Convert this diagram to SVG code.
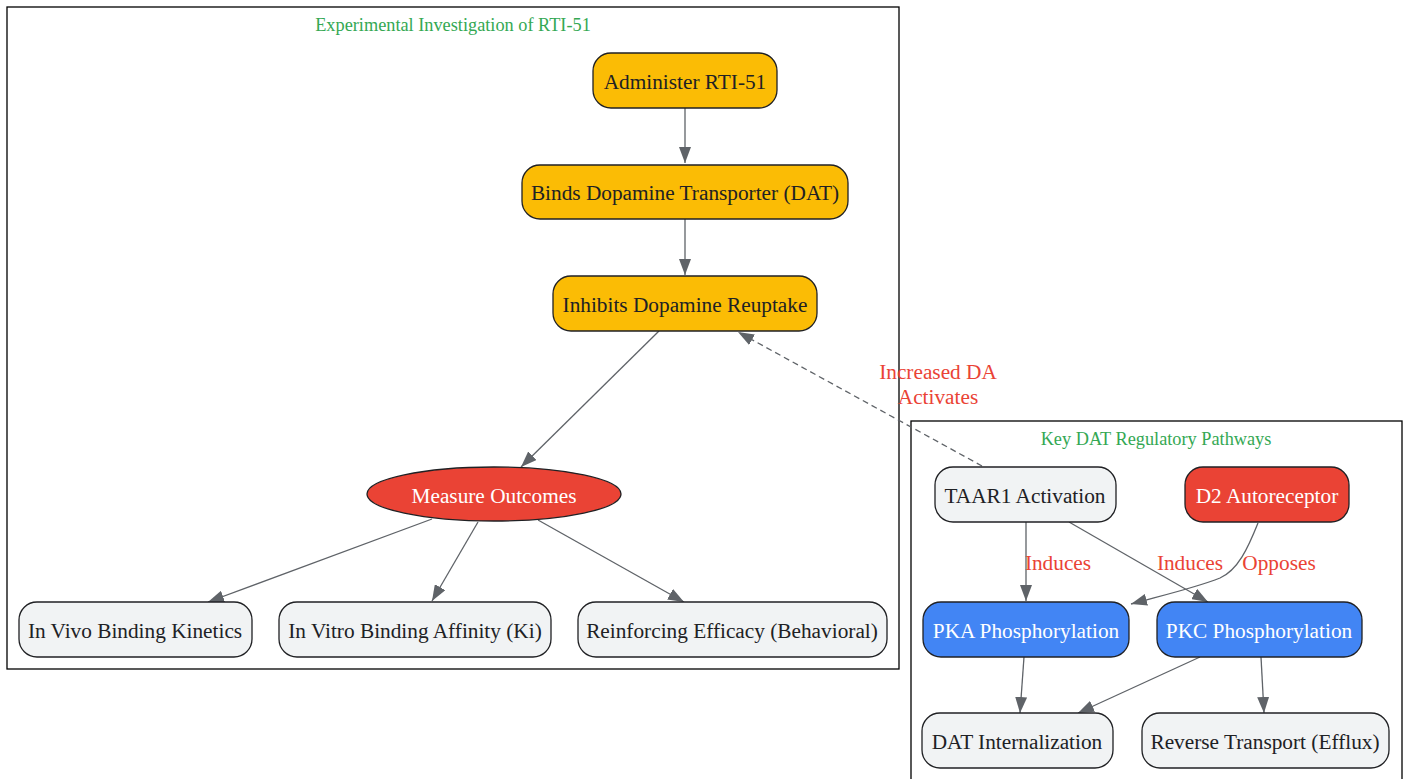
<svg xmlns="http://www.w3.org/2000/svg" width="1407" height="779" viewBox="0 0 1407 779">
<style>
.cl{fill:none;stroke:#000;stroke-width:1.3}
.ct{font-family:"Liberation Serif",serif;font-size:18.3px;fill:#34a853;text-anchor:middle}
.n{stroke:#202124;stroke-width:1.3}
.y{fill:#fbbc05}.g{fill:#f1f3f4}.r{fill:#ea4335}.b{fill:#4285f4}
.t{font-family:"Liberation Serif",serif;font-size:21.3px;text-anchor:middle;dominant-baseline:central;fill:#202124}
.w{fill:#fff}
.e{fill:none;stroke:#5f6368;stroke-width:1.3}
.d{stroke-dasharray:6,4}
.el{font-family:"Liberation Serif",serif;font-size:21.3px;fill:#ea4335;text-anchor:middle;dominant-baseline:central}
</style>
<defs>
<marker id="ah" viewBox="0 0 16 12" refX="16" refY="6" markerWidth="16" markerHeight="12" markerUnits="userSpaceOnUse" orient="auto"><path d="M0,0 L16,6 L0,12 z" fill="#5f6368"/></marker>
</defs>
<g id="cluster_exp">
<rect class="cl" x="7" y="7" width="892" height="662"/>
<text class="ct" x="453" y="31">Experimental Investigation of RTI-51</text>
</g>
<g id="cluster_dat">
<rect class="cl" x="911" y="421" width="491" height="370"/>
<text class="ct" x="1156" y="445">Key DAT Regulatory Pathways</text>
</g>
<g id="edges">
<path class="e" d="M685,108 L685,163" marker-end="url(#ah)"/>
<path class="e" d="M685,219 L685,275" marker-end="url(#ah)"/>
<path class="e" d="M659,331 L521,467" marker-end="url(#ah)"/>
<path class="e" d="M432,519 L208,602" marker-end="url(#ah)"/>
<path class="e" d="M478,522 L432,601" marker-end="url(#ah)"/>
<path class="e" d="M538,520 L684,602" marker-end="url(#ah)"/>
<path class="e d" d="M982,466 L738,332" marker-end="url(#ah)"/>
<path class="e" d="M1026,522 L1026,601" marker-end="url(#ah)"/>
<path class="e" d="M1069,522 L1208,602" marker-end="url(#ah)"/>
<path class="e" d="M1258,523 C1248,548 1238,570 1220,578 C1195,588 1160,596 1131,604" marker-end="url(#ah)"/>
<path class="e" d="M1024,657 L1020,713" marker-end="url(#ah)"/>
<path class="e" d="M1200,657 L1078,713" marker-end="url(#ah)"/>
<path class="e" d="M1261,657 L1264,713" marker-end="url(#ah)"/>
<text class="el" x="938" y="372">Increased DA</text>
<text class="el" x="938" y="397">Activates</text>
<text class="el" x="1058" y="563">Induces</text>
<text class="el" x="1190" y="563">Induces</text>
<text class="el" x="1279" y="563">Opposes</text>
</g>
<g id="administer"><rect class="n y" x="593" y="53" width="184" height="55" rx="18"/><text class="t" x="685" y="82">Administer RTI-51</text></g>
<g id="binds"><rect class="n y" x="522" y="165" width="326" height="54" rx="18"/><text class="t" x="685" y="193">Binds Dopamine Transporter (DAT)</text></g>
<g id="inhibits"><rect class="n y" x="553" y="276" width="264" height="55" rx="18"/><text class="t" x="685" y="305">Inhibits Dopamine Reuptake</text></g>
<g id="measure"><ellipse class="n r" cx="494" cy="494" rx="127" ry="27"/><text class="t w" x="494" y="496">Measure Outcomes</text></g>
<g id="invivo"><rect class="n g" x="19" y="602" width="233" height="55" rx="18"/><text class="t" x="135" y="631">In Vivo Binding Kinetics</text></g>
<g id="invitro"><rect class="n g" x="279" y="602" width="272" height="55" rx="18"/><text class="t" x="415" y="631">In Vitro Binding Affinity (Ki)</text></g>
<g id="reinforcing"><rect class="n g" x="578" y="602" width="309" height="55" rx="18"/><text class="t" x="732" y="631">Reinforcing Efficacy (Behavioral)</text></g>
<g id="taar1"><rect class="n g" x="935" y="467" width="181" height="55" rx="18"/><text class="t" x="1025" y="496">TAAR1 Activation</text></g>
<g id="d2"><rect class="n r" x="1185" y="467" width="164" height="55" rx="18"/><text class="t w" x="1267" y="496">D2 Autoreceptor</text></g>
<g id="pka"><rect class="n b" x="923" y="602" width="206" height="55" rx="18"/><text class="t w" x="1026" y="631">PKA Phosphorylation</text></g>
<g id="pkc"><rect class="n b" x="1157" y="602" width="205" height="55" rx="18"/><text class="t w" x="1259" y="631">PKC Phosphorylation</text></g>
<g id="internalization"><rect class="n g" x="922" y="713" width="191" height="55" rx="18"/><text class="t" x="1017" y="742">DAT Internalization</text></g>
<g id="reverse"><rect class="n g" x="1142" y="713" width="247" height="55" rx="18"/><text class="t" x="1265" y="742">Reverse Transport (Efflux)</text></g>
</svg>
